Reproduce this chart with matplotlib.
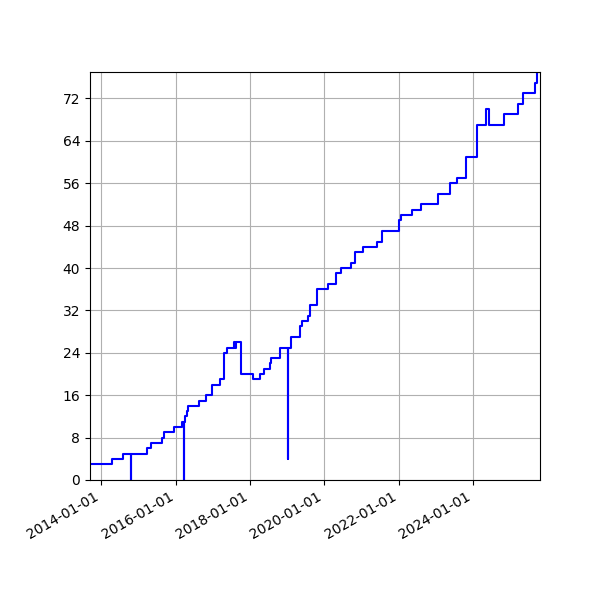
import matplotlib
matplotlib.use("Agg")
import matplotlib.dates as mdates
import matplotlib.pyplot as plt
import matplotlib.ticker as mticker
import numpy as np

# change dates and the running count from each date on
dates = [
    "2013-09-13", "2014-04-16", "2014-08-04", "2014-10-20", "2014-10-22",
    "2015-03-25", "2015-05-08", "2015-08-22", "2015-09-09", "2015-12-16",
    "2016-03-06", "2016-03-21", "2016-03-23", "2016-04-08", "2016-04-23",
    "2016-05-04", "2016-08-18", "2016-10-30", "2016-12-24", "2016-12-28",
    "2017-03-10", "2017-04-20", "2017-05-16", "2017-07-24", "2017-08-05",
    "2017-08-18", "2017-10-01", "2018-01-30", "2018-04-09", "2018-05-23",
    "2018-07-20", "2018-07-27", "2018-10-26", "2019-01-10", "2019-01-12",
    "2019-02-06", "2019-05-03", "2019-05-08", "2019-05-23", "2019-07-27",
    "2019-08-18", "2019-10-23", "2020-02-03", "2020-04-23", "2020-06-10",
    "2020-09-16", "2020-10-25", "2020-10-30", "2021-01-19", "2021-06-04",
    "2021-07-24", "2022-01-04", "2022-01-23", "2022-05-08", "2022-08-08",
    "2023-01-23", "2023-05-16", "2023-07-31", "2023-10-23", "2024-02-06",
    "2024-05-04", "2024-06-02", "2024-10-30", "2025-03-14", "2025-05-08",
    "2025-08-29", "2025-09-24", "2025-10-20",
]
counts = [
    3, 4, 5, 0, 5,
    6, 7, 8, 9, 10,
    11, 0, 11, 12, 13,
    14, 15, 16, 17, 18,
    19, 24, 25, 26, 25,
    26, 20, 19, 20, 21,
    22, 23, 25, 4, 25,
    27, 28, 29, 30, 31,
    33, 36, 37, 39, 40,
    41, 42, 43, 44, 45,
    47, 49, 50, 51, 52,
    54, 56, 57, 61, 67,
    70, 67, 69, 71, 73,
    75, 77, 77,
]


def main() -> None:
    x = np.array(dates, dtype="datetime64[D]")
    y = np.array(counts)

    fig, ax = plt.subplots(figsize=(6, 6), dpi=100)
    ax.plot(x, y, color="blue", drawstyle="steps-post")

    ax.set_xlim(x[0], x[-1])
    ax.set_ylim(0, y.max())
    ax.yaxis.set_major_locator(mticker.MultipleLocator(8))
    ax.xaxis.set_major_locator(mdates.YearLocator(2))
    ax.xaxis.set_major_formatter(mdates.DateFormatter("%Y-%m-%d"))
    ax.grid(True)

    fig.autofmt_xdate()
    fig.subplots_adjust(left=0.15, right=0.9, top=0.88, bottom=0.2)
    fig.savefig("out.png", dpi=100)


if __name__ == "__main__":
    main()
